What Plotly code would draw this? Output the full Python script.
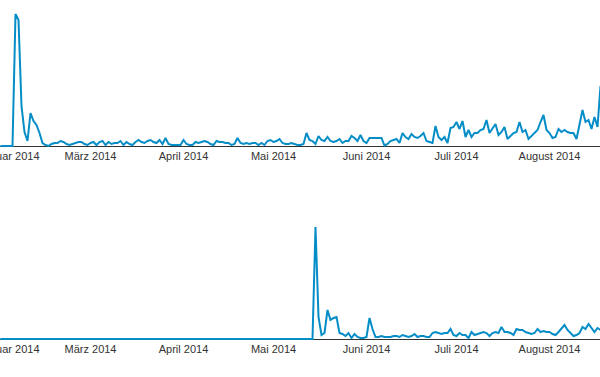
import datetime as dt
import plotly.graph_objects as go

# ---- data -------------------------------------------------------------
start_day = dt.date(2014, 1, 30)

top_values = (
    [0, 0, 0, 0, 0]
    + [132, 126, 40, 14, 5, 33, 25, 21, 13, 3, 1]
    + [0, 2, 3, 3, 5, 4, 2, 1, 2, 3, 4, 4, 2, 1, 3, 4, 1, 4, 5, 1, 4, 2, 3, 3, 5, 1, 4, 2, 1, 4, 6]
    + [4, 3, 5]
    + [6, 4, 3, 6, 2, 8, 2, 1, 1, 1, 1, 6, 2, 1, 1, 4, 3, 4, 5, 4, 2, 1, 5, 4, 4, 3, 3, 1, 2, 8,
       3, 2, 3, 2, 3, 3, 1, 3, 1, 5, 6, 4, 5, 7, 3, 2]
    + [2, 3, 2, 1]
    + [1, 2, 13, 6, 5, 2, 10, 6, 5, 9, 5, 4, 5, 7, 3, 5, 5, 10, 8, 5, 11, 5, 3, 8, 8, 8, 8, 8, 0.5, 2,
       5, 6, 7, 3, 13, 9, 7, 12, 9, 8, 10, 13, 5, 4, 3, 20, 9, 6, 9, 3]
    + [18, 19, 24, 17, 25, 9, 16, 9, 13, 13, 16, 17, 26, 13, 17, 22, 11, 14, 19, 7, 10, 13, 14, 24, 14,
       16, 7, 10, 13, 16, 24, 31, 16, 13, 8, 9, 17, 14, 16, 14, 13, 13, 7, 23, 36, 24, 26, 17, 29, 19, 60]
)

bottom_values = (
    [0] * 105
    + [112, 22, 4, 6, 29, 19, 21, 22, 6, 5, 3, 6, 1, 5, 2, 1, 1, 2, 21, 10, 2, 2, 3, 2]
    + [2, 2, 3, 3, 2, 4, 3, 2, 3, 5, 2, 3, 3, 2, 2, 6, 7]
    + [6, 5, 6, 6, 10, 4, 3, 6, 4, 4, 1, 7, 4, 5, 6, 7, 6, 3, 6, 7, 6, 12, 7, 7, 6, 4, 10, 9, 9, 7,
       6, 5, 6, 10, 7, 8, 7, 7, 5, 4, 7, 10, 14, 9, 6, 3, 4, 6, 12, 10, 15, 11, 7, 11, 9]
)

dates = [start_day + dt.timedelta(days=i) for i in range(len(top_values))]

tick_dates = ["2014-02-01", "2014-03-01", "2014-04-01", "2014-05-01",
              "2014-06-01", "2014-07-01", "2014-08-01"]
tick_labels = ["Februar 2014", "März 2014", "April 2014", "Mai 2014",
               "Juni 2014", "Juli 2014", "August 2014"]

# ---- figure -----------------------------------------------------------
LINE = "#058dc7"
H = 377.0

fig = go.Figure()
fig.add_trace(go.Scatter(x=dates, y=top_values, mode="lines",
                         line=dict(color=LINE, width=2), xaxis="x", yaxis="y",
                         hoverinfo="skip", showlegend=False))
fig.add_trace(go.Scatter(x=dates, y=bottom_values, mode="lines",
                         line=dict(color=LINE, width=2), xaxis="x2", yaxis="y2",
                         hoverinfo="skip", showlegend=False))

x_range = ["2014-01-29 20:00", "2014-08-17 20:00"]

xaxis_common = dict(
    type="date", range=x_range, showgrid=False, zeroline=False, showline=False,
    ticks="", tickvals=tick_dates, ticktext=tick_labels, automargin=False,
    tickfont=dict(family="Liberation Sans, Arial, sans-serif", size=11, color="#333333"),
    ticklabeloverflow="allow", fixedrange=True,
)
yaxis_common = dict(
    range=[-2, 146], showgrid=False, showticklabels=False, ticks="", showline=False,
    zeroline=True, zerolinecolor="#333333", zerolinewidth=1, fixedrange=True,
    automargin=False,
)

fig.update_layout(
    width=600, height=377,
    margin=dict(l=0, r=0, t=0, b=0, pad=0, autoexpand=False),
    paper_bgcolor="white", plot_bgcolor="white",
    xaxis=dict(**xaxis_common, domain=[0, 1], anchor="y"),
    yaxis=dict(**yaxis_common, domain=[1 - 148 / H, 1], anchor="x"),
    xaxis2=dict(**xaxis_common, domain=[0, 1], anchor="y2"),
    yaxis2=dict(**yaxis_common, domain=[1 - 341 / H, 1 - 193 / H], anchor="x2"),
)

fig.write_html(
    "out.html",
    config={"displayModeBar": False},
    post_script="document.body.style.margin='0';document.body.style.overflow='hidden';",
)
